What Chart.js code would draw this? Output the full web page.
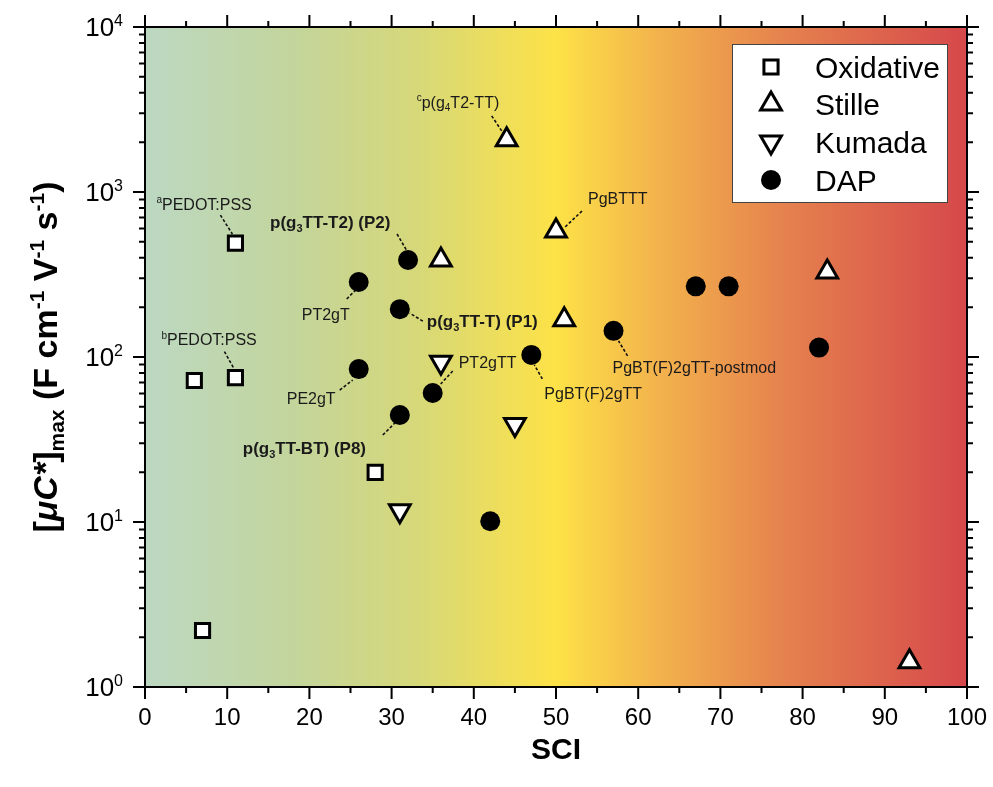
<!DOCTYPE html>
<html>
<head>
<meta charset="utf-8">
<script src="https://cdn.jsdelivr.net/npm/chart.js@4.4.1/dist/chart.umd.min.js"></script>
<style>
  body { margin: 0; background: #fff; }
  #wrap { width: 993px; height: 787px; }
</style>
</head>
<body>
<div id="wrap"><canvas id="sciChart" width="993" height="787"></canvas></div>
<script>
// SCI vs [uC*]max, one pair of arrays per synthesis route
const oxidativeSci = [6, 11, 11, 28, 7];
const oxidativeUC = [72, 75, 490, 20, 2.2];
const stilleSci = [44, 50, 36, 51, 83, 93];
const stilleUC = [2070, 580, 387, 168, 327, 1.42];
const kumadaSci = [36, 45, 31];
const kumadaUC = [93, 39, 11.7];
const dapSci = [32, 26, 31, 26, 35, 31, 47, 57, 67, 71, 82, 42];
const dapUC = [387, 285, 195, 84.5, 60.5, 44.5, 103, 144, 268, 268, 114, 10.1];

const seriesNames = ["Oxidative", "Stille", "Kumada", "DAP"];
const xTicks = [0, 10, 20, 30, 40, 50, 60, 70, 80, 90, 100];
const yTicks = [1, 10, 100, 1000, 10000];
const yTickLabels = ["10{^0}", "10{^1}", "10{^2}", "10{^3}", "10{^4}"];

// labels with dashed leaders: which point, text offset, leader offsets (px from the point)
const notes = [
  { ds: 0, i: 2, text: "{^a}PEDOT:PSS", dx: -79, dy: -39, from: [-15, -28], to: [-3, -9] },
  { ds: 0, i: 1, text: "{^b}PEDOT:PSS", dx: -74, dy: -38, from: [-11, -26], to: [-2, -10] },
  { ds: 3, i: 0, text: "p(g{_3}TT-T2) (P2)", bold: true, dx: -138, dy: -38, from: [-11, -26], to: [-1, -9] },
  { ds: 1, i: 0, text: "{^c}p(g{_4}T2-TT)", dx: -90, dy: -38, from: [-15, -24], to: [-5, -9] },
  { ds: 1, i: 1, text: "PgBTTT", dx: 32, dy: -33, from: [26, -20], to: [9, -4] },
  { ds: 3, i: 1, text: "PT2gT", dx: -57, dy: 32, from: [-12, 17], to: [-3, 8] },
  { ds: 3, i: 2, text: "p(g{_3}TT-T) (P1)", bold: true, dx: 27, dy: 12, from: [23, 12], to: [10, 4] },
  { ds: 3, i: 3, text: "PE2gT", dx: -72, dy: 29, from: [-19, 21], to: [-6, 11] },
  { ds: 3, i: 4, text: "PT2gTT", dx: 26, dy: -31, from: [20, -22], to: [8, -9] },
  { ds: 3, i: 6, text: "PgBT(F)2gTT", dx: 13, dy: 38, from: [11, 24], to: [3, 10] },
  { ds: 3, i: 7, text: "PgBT(F)2gTT-postmod", dx: -1, dy: 36, from: [14, 25], to: [5, 10] },
  { ds: 3, i: 5, text: "p(g{_3}TT-BT) (P8)", bold: true, dx: -157, dy: 33, from: [-17, 20], to: [-5, 8] }
];

const bgStops = [
  [0, "#bcd8c2"], [0.18, "#c3d59c"], [0.33, "#d6d879"], [0.5, "#fde247"],
  [0.62, "#f3b44c"], [0.78, "#e5814e"], [1, "#d6484b"]
];

const FONT = "'Liberation Sans', Arial, sans-serif";

function toPts(xs, ys) {
  return xs.map((x, k) => ({ x: x, y: ys[k] }));
}

function parseRich(str) {
  const parts = [];
  const re = /\{([\^_\/])([^}]*)\}|([^{]+)/g;
  let m;
  while ((m = re.exec(str))) {
    if (m[3]) parts.push({ t: m[3], k: "" });
    else parts.push({ t: m[2], k: m[1] });
  }
  return parts;
}

function partFont(p, size, weight) {
  const s = (p.k === "^" || p.k === "_") ? Math.round(size * 0.62) : size;
  const style = p.k === "/" ? "italic " : "";
  return style + weight + " " + s + "px " + FONT;
}

// draws text with {^sup} {_sub} {/italic}; y is the vertical middle of capitals
function drawRich(ctx, str, x, y, size, weight, align) {
  const parts = parseRich(str);
  let w = 0;
  parts.forEach(p => { ctx.font = partFont(p, size, weight); p.w = ctx.measureText(p.t).width; w += p.w; });
  let cx = x;
  if (align === "center") cx = x - w / 2;
  if (align === "right") cx = x - w;
  const base = y + size * 0.36;
  ctx.textBaseline = "alphabetic";
  ctx.textAlign = "left";
  parts.forEach(p => {
    ctx.font = partFont(p, size, weight);
    let by = base;
    if (p.k === "^") by = base - size * 0.4;
    if (p.k === "_") by = base + size * 0.2;
    ctx.fillText(p.t, cx, by);
    cx += p.w;
  });
}

const frame = {
  id: "frame",
  beforeDatasetsDraw(chart) {
    const { ctx, chartArea: a } = chart;
    const g = ctx.createLinearGradient(a.left, 0, a.right, 0);
    bgStops.forEach(s => g.addColorStop(s[0], s[1]));
    ctx.save();
    ctx.fillStyle = g;
    ctx.fillRect(a.left, a.top, a.right - a.left, a.bottom - a.top);

    // dashed leaders
    ctx.strokeStyle = "#111";
    ctx.lineWidth = 1.6;
    ctx.setLineDash([3, 2]);
    notes.forEach(n => {
      const el = chart.getDatasetMeta(n.ds).data[n.i];
      ctx.beginPath();
      ctx.moveTo(el.x + n.from[0], el.y + n.from[1]);
      ctx.lineTo(el.x + n.to[0], el.y + n.to[1]);
      ctx.stroke();
    });
    ctx.setLineDash([]);
    ctx.fillStyle = "#1a1a1a";
    notes.forEach(n => {
      const el = chart.getDatasetMeta(n.ds).data[n.i];
      if (n.bold) drawRich(ctx, n.text, el.x + n.dx, el.y + n.dy, 17, "bold", "left");
      else drawRich(ctx, n.text, el.x + n.dx, el.y + n.dy, 16, "normal", "left");
    });
    ctx.restore();
  },
  afterDraw(chart) {
    const { ctx, chartArea: a } = chart;
    const xs = chart.scales.x, ys = chart.scales.y;
    ctx.save();
    ctx.strokeStyle = "#000";
    ctx.lineWidth = 2;
    ctx.strokeRect(a.left, a.top, a.right - a.left, a.bottom - a.top);

    ctx.beginPath();
    for (let v = 0; v <= 100; v += 5) {
      const px = xs.getPixelForValue(v);
      const len = v % 10 === 0 ? 12 : 6;
      ctx.moveTo(px, a.bottom); ctx.lineTo(px, a.bottom + len);
      ctx.moveTo(px, a.top); ctx.lineTo(px, a.top - len);
    }
    for (let d = 1; d <= 10000; d *= 10) {
      for (let k = 1; k <= 9; k++) {
        const v = d * k;
        if (v > 10000) break;
        const py = ys.getPixelForValue(v);
        const len = k === 1 ? 12 : 6;
        ctx.moveTo(a.left, py); ctx.lineTo(a.left - len, py);
        ctx.moveTo(a.right, py); ctx.lineTo(a.right + len, py);
      }
    }
    ctx.stroke();

    ctx.fillStyle = "#000";
    ctx.textAlign = "center";
    ctx.textBaseline = "middle";
    ctx.font = "24px " + FONT;
    xTicks.forEach(v => ctx.fillText(String(v), xs.getPixelForValue(v), 718));
    yTicks.forEach((v, k) => drawRich(ctx, yTickLabels[k], 123, ys.getPixelForValue(v), 26, "normal", "right"));

    drawRich(ctx, "SCI", (a.left + a.right) / 2, 748, 30, "bold", "center");
    ctx.save();
    ctx.translate(45, (a.top + a.bottom) / 2);
    ctx.rotate(-Math.PI / 2);
    drawRich(ctx, "[{/μC*}]{_max} (F cm{^-1} V{^-1} s{^-1})", 0, 0, 34, "bold", "center");
    ctx.restore();

    // legend
    ctx.fillStyle = "#fff";
    ctx.fillRect(732, 44, 215, 158);
    ctx.strokeStyle = "#444";
    ctx.lineWidth = 1;
    ctx.strokeRect(732.5, 44.5, 215, 158);
    const rows = [67, 104, 142, 180];
    chart.data.datasets.forEach((ds, k) => {
      ctx.fillStyle = ds.backgroundColor;
      ctx.strokeStyle = ds.borderColor;
      ctx.lineWidth = ds.borderWidth;
      Chart.helpers.drawPoint(ctx, {
        pointStyle: ds.pointStyle, radius: ds.pointRadius,
        rotation: ds.rotation || 0, borderWidth: ds.borderWidth
      }, 771, rows[k]);
      ctx.fillStyle = "#000";
      drawRich(ctx, ds.label, 815, rows[k], 30, "normal", "left");
    });
    ctx.restore();
  }
};

new Chart(document.getElementById("sciChart"), {
  type: "scatter",
  data: {
    datasets: [
      { label: seriesNames[0], data: toPts(oxidativeSci, oxidativeUC), pointStyle: "rect",
        pointRadius: 10, backgroundColor: "#fff", borderColor: "#000", borderWidth: 3 },
      { label: seriesNames[1], data: toPts(stilleSci, stilleUC), pointStyle: "triangle",
        pointRadius: 12, backgroundColor: "#fff", borderColor: "#000", borderWidth: 3 },
      { label: seriesNames[2], data: toPts(kumadaSci, kumadaUC), pointStyle: "triangle", rotation: 180,
        pointRadius: 12, backgroundColor: "#fff", borderColor: "#000", borderWidth: 3 },
      { label: seriesNames[3], data: toPts(dapSci, dapUC), pointStyle: "circle",
        pointRadius: 10, backgroundColor: "#000", borderColor: "#000", borderWidth: 0 }
    ]
  },
  options: {
    responsive: false,
    animation: false,
    layout: { padding: { left: 0, right: 26, top: 27, bottom: 0 } },
    plugins: { legend: { display: false }, tooltip: { enabled: false } },
    scales: {
      x: {
        type: "linear", min: 0, max: 100,
        grid: { display: false }, border: { display: false },
        ticks: { display: false },
        afterFit(s) { s.height = 100; }
      },
      y: {
        type: "logarithmic", min: 1, max: 10000,
        grid: { display: false }, border: { display: false },
        ticks: { display: false },
        afterFit(s) { s.width = 145; }
      }
    }
  },
  plugins: [frame]
});
</script>
</body>
</html>
